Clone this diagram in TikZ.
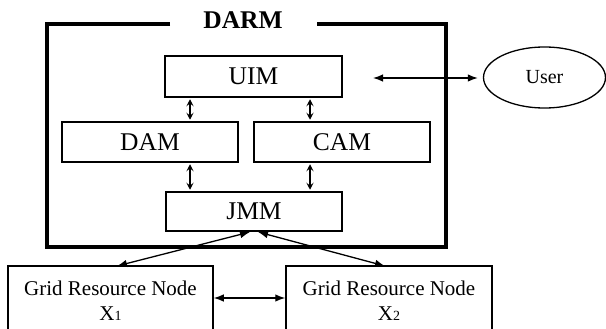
\documentclass[tikz,border=0pt]{standalone}
\usepackage{fontspec}
\setmainfont{Liberation Serif}
\usetikzlibrary{arrows.meta,calc,shapes.geometric}
\tikzset{
  module/.style={draw, line width=1.5pt, minimum width=176pt, minimum height=40pt, inner sep=0pt,
    font=\fontsize{25.5}{30}\selectfont},
  gridbox/.style={draw, line width=1.5pt, inner sep=0pt},
  gridtext/.style={align=center, inner sep=0pt, font=\fontsize{21}{25}\selectfont},
  smallarr/.style={line width=1.1pt, {Stealth[length=7pt,width=7pt,inset=3pt]}-{Stealth[length=7pt,width=7pt,inset=3pt]}, shorten <=1.5pt, shorten >=1.5pt},
  bigarr/.style={line width=1.3pt, {Latex[length=10pt,width=7.5pt]}-{Latex[length=10pt,width=7.5pt]}},
  outer/.style={line width=4pt}
}
\begin{document}
\begin{tikzpicture}[x=1pt,y=-1pt]
\useasboundingbox (0,0) rectangle (606,329);
\clip (0,0) rectangle (606,329);
% outer DARM frame
\draw[outer] (170,24.5) -- (46.5,24.5) -- (46.5,247) -- (446,247) -- (446,24.5) -- (317,24.5);
\node[font=\fontsize{25.5}{30}\selectfont\bfseries, inner sep=0pt] (darm) at (243,20) {DARM};
% modules
\node[module, minimum width=177pt, minimum height=41pt] (uim) at (253.5,76.5) {UIM};
\node[module] (dam) at (150,142) {DAM};
\node[module] (cam) at (342,142) {CAM};
\node[module, minimum height=39pt] (jmm) at (254,211.5) {JMM};
% user
\node[draw, ellipse, line width=1.3pt, minimum width=122pt, minimum height=61pt, inner sep=0pt,
  font=\fontsize{20}{24}\selectfont] (user) at (544.5,77.5) {User};
% grid nodes
\node[gridbox, minimum width=205pt, minimum height=80pt] (g1) at (110.5,306) {};
\node[gridbox, minimum width=206pt, minimum height=80pt] (g2) at (389,306) {};
\node[gridtext] (g1t) at (110.5,300.5) {Grid Resource Node\\X{\fontsize{14}{14}\selectfont 1}};
\node[gridtext] (g2t) at (389,300.5) {Grid Resource Node\\X{\fontsize{14}{14}\selectfont 2}};
% helper coordinates
\coordinate (cl) at (190,0);
\coordinate (cr) at (310,0);
\coordinate (cu) at (373,78);
\coordinate (cg) at (0,298);
\coordinate (j1) at (250,232);
\coordinate (j2) at (258,232);
\coordinate (t1) at (117,266);
\coordinate (t2) at (385,266);
% small arrows
\draw[smallarr] (uim.south -| cl) -- (dam.north -| cl);
\draw[smallarr] (uim.south -| cr) -- (cam.north -| cr);
\draw[smallarr] (dam.south -| cl) -- (jmm.north -| cl);
\draw[smallarr] (cam.south -| cr) -- (jmm.north -| cr);
% user arrow
\draw[bigarr, shorten >=5pt] (cu) -- (user.west |- cu);
% JMM arrows
\draw[bigarr] (t1) -- (j1);
\draw[bigarr] (t2) -- (j2);
% grid-grid arrow
\draw[bigarr] (g1.east |- cg) -- (g2.west |- cg);
\end{tikzpicture}
\end{document}
